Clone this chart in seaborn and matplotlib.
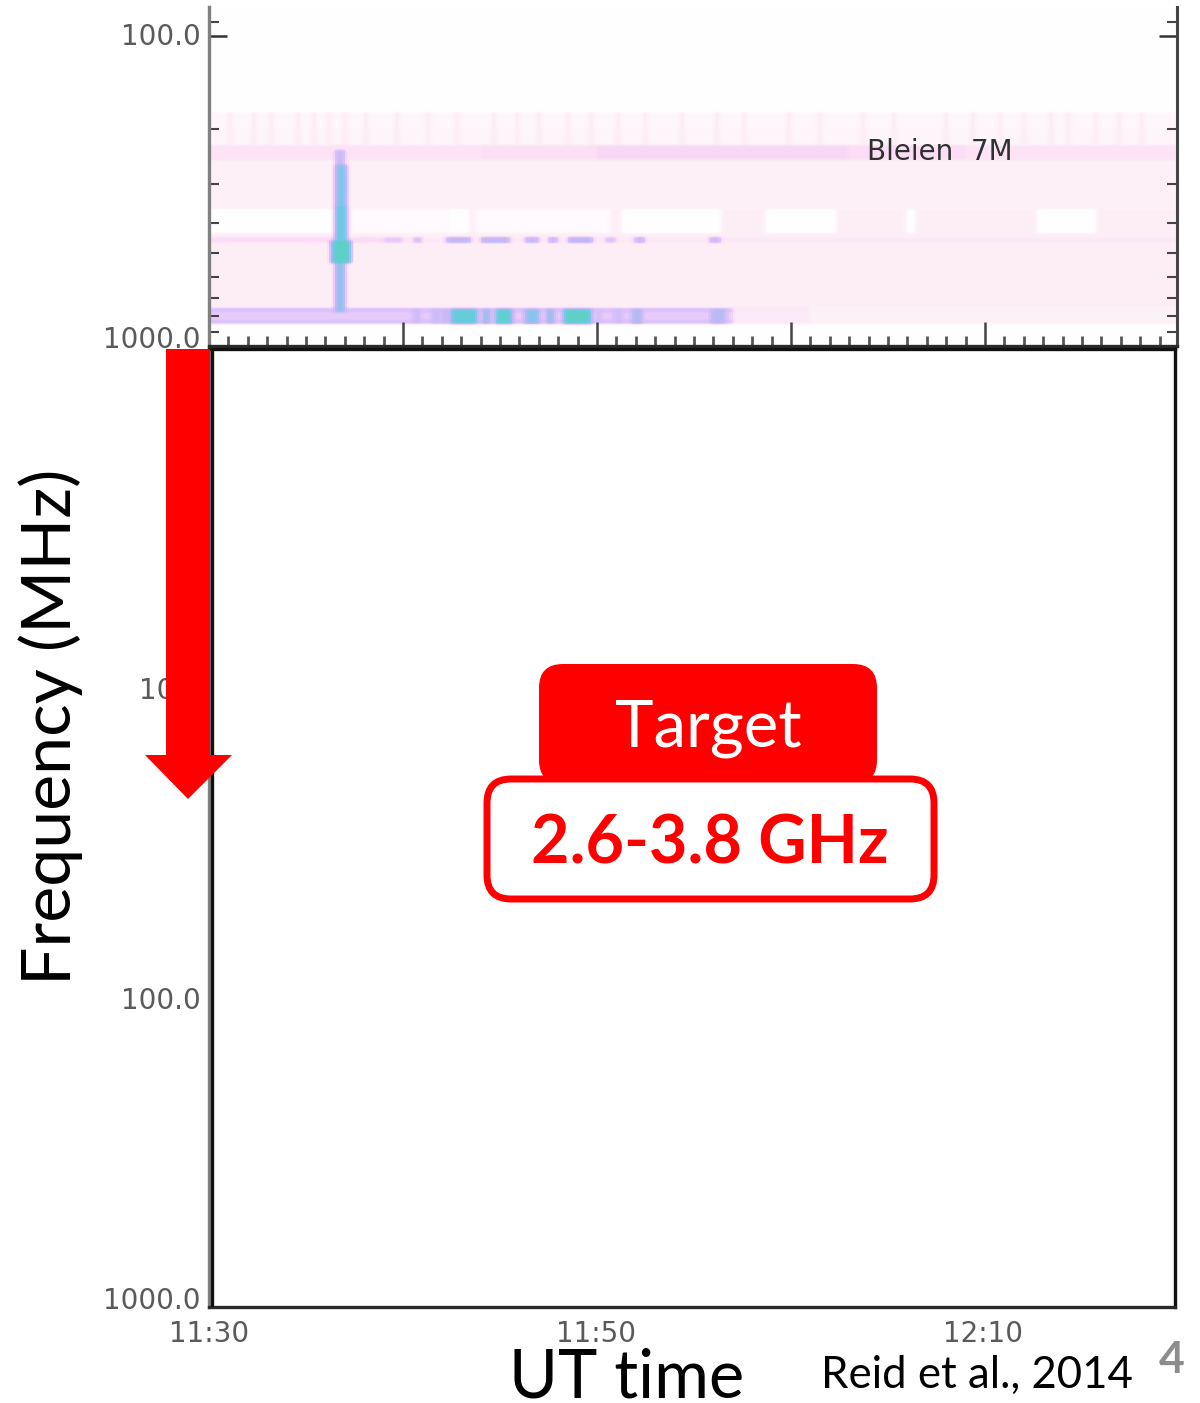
import matplotlib
matplotlib.use("Agg")
import matplotlib.pyplot as plt
import numpy as np
import pandas as pd
import seaborn as sns
from matplotlib.colors import LinearSegmentedColormap
from matplotlib.patches import FancyBboxPatch, Polygon
from matplotlib.ticker import FixedLocator, NullFormatter

# spectrogram bands: low freq, high freq (MHz), level
band_low = [80.6, 176, 200, 225, 252, 360, 431, 743, 755, 780, 824, 850]
band_high = [176, 200, 225, 252, 360, 431, 743, 755, 780, 824, 850, 1000]
band_level = [0.0, 0.05, 0.06, 0.16, 0.09, 0.10, 0.10, 0.12, 0.34, 0.27, 0.34, 0.0]

# white gaps in the 360-431 MHz band (minutes after 11:30)
gap_start = [0.0, 7.3, 12.4, 13.7, 21.3, 28.7, 36.0, 42.7]
gap_end = [6.4, 12.4, 13.4, 20.7, 26.4, 32.3, 36.4, 45.7]
gap_level = [0.0, 0.03, 0.0, 0.03, 0.0, 0.0, 0.0, 0.0]

# stronger pink in the 225-252 MHz band
pink_start = [14.0, 20.0, 33.0]
pink_end = [20.0, 33.0, 39.0]
pink_level = [0.18, 0.22, 0.19]

# faint vertical striations, 176-225 MHz
stria_time = [1.0, 2.2, 3.1, 4.5, 5.3, 6.1, 6.9, 8.0, 9.6, 11.2, 12.7, 14.6, 15.8, 16.9, 18.4, 19.6,
              21.0, 22.4, 24.3, 26.1, 27.5, 29.8, 31.4, 33.6, 35.2, 37.9, 39.3, 40.7, 41.9, 43.3, 44.2, 45.6, 46.8, 48.0]

# fading of the purple strip on the right (minutes, level)
strip_fade_start = [27.0, 31.0]
strip_fade_end = [31.0, 49.9]
strip_fade_level = [0.13, 0.08]

# main burst
burst_time = 6.75
burst_low = [234, 261, 352, 457, 539]
burst_high = [261, 352, 457, 539, 776]
burst_width = [0.5, 0.55, 0.6, 0.95, 0.5]
burst_level = [0.42, 0.68, 0.78, 0.88, 0.64]

# later bursts in the 760-850 MHz strip
strip_start = [10.5, 11.5, 12.0, 12.5, 14.1, 14.8, 16.3, 17.4, 18.3, 20.0, 20.8, 21.0, 21.8, 25.9]
strip_end = [10.9, 11.9, 12.4, 13.8, 14.5, 15.6, 17.0, 17.8, 19.7, 20.2, 21.0, 21.3, 22.3, 26.6]
strip_level = [0.4, 0.42, 0.44, 0.82, 0.62, 0.86, 0.66, 0.62, 0.88, 0.38, 0.34, 0.4, 0.54, 0.5]

# thin emission line at 454 MHz
line_start = [0.0, 9.0, 10.5, 12.2, 14.0, 16.3, 17.5, 18.5, 20.4, 21.9, 25.8]
line_end = [9.0, 10.0, 11.0, 13.5, 15.5, 17.0, 18.0, 19.8, 21.0, 22.5, 26.4]
line_level = [0.2, 0.28, 0.34, 0.46, 0.46, 0.44, 0.42, 0.48, 0.32, 0.42, 0.4]

freq_major = [100, 1000]
freq_minor = [90, 200, 300, 400, 500, 600, 700, 800, 900]
freq_minor_low = [2, 3, 4, 5, 6, 7, 8, 9, 20, 30, 40, 50, 60, 70, 80, 90, 200, 300, 400, 500, 600, 700, 800, 900]
time_major = [0, 10, 20, 30, 40]
time_lower_labels = ["11:30", "11:50", "12:10"]
time_lower_ticks = [0, 20, 40]
lower_freq_labels = ["10.0", "100.0", "1000.0"]
lower_freq_ticks = [10, 100, 1000]
lower_label_offset = [-2, -2, 4]

T_MAX = 49.9
W, H = 1200, 1403

sns.set_theme(style="white")
plt.rcParams["font.family"] = ["DejaVu Sans"]

time_grid = np.arange(0, T_MAX, 0.1)
freq_grid = np.logspace(np.log10(80.6), 3, 338)
grid = np.zeros((len(freq_grid), len(time_grid)))


def fill(f_low, f_high, t_start, t_end, value):
    rows = (freq_grid >= f_low) & (freq_grid < f_high)
    cols = (time_grid >= t_start) & (time_grid < t_end)
    grid[np.ix_(rows, cols)] = value


for low, high, level in zip(band_low, band_high, band_level):
    fill(low, high, 0, T_MAX, level)
for start, end, level in zip(pink_start, pink_end, pink_level):
    fill(225, 252, start, end, level)
for start, end, level in zip(gap_start, gap_end, gap_level):
    fill(360, 431, start, end, level)
for t in stria_time:
    fill(176, 225, t, t + 0.15, 0.13)
for start, end, level in zip(strip_fade_start, strip_fade_end, strip_fade_level):
    fill(743, 850, start, end, level)
fill(444, 464, 0, T_MAX, 0.13)
for start, end, level in zip(line_start, line_end, line_level):
    fill(444, 464, start, end, level)
for low, high, width, level in zip(burst_low, burst_high, burst_width, burst_level):
    fill(low, high, burst_time - width / 2, burst_time + width / 2, level)
for start, end, level in zip(strip_start, strip_end, strip_level):
    fill(762, 850, start, end, level)

# the source is a blurry scan
kernel = np.array([0.1, 0.2, 0.4, 0.2, 0.1])
grid = np.apply_along_axis(lambda r: np.convolve(r, kernel, mode="same"), 1, grid)
grid = np.apply_along_axis(lambda c: np.convolve(c, kernel, mode="same"), 0, grid)
grid[:, :2] = grid[:, [2]]
grid[:, -2:] = grid[:, [-3]]
grid[:2] = grid[2]
grid[-2:] = grid[-3]

cmap = LinearSegmentedColormap.from_list("bleien", [
    (0.0, "#fffeff"), (0.1, "#fdeef6"), (0.2, "#fbdcf5"), (0.3, "#dfc4fa"),
    (0.45, "#c4b8f5"), (0.6, "#9cc0ee"), (0.75, "#6fc8ea"), (0.88, "#5fd0c8"), (1.0, "#66dd9f"),
])

fig = plt.figure(figsize=(W / 100, H / 100), dpi=100, facecolor="white")


def px_axes(left, top, right, bottom, **kwargs):
    return fig.add_axes([left / W, 1 - bottom / H, (right - left) / W, (bottom - top) / H], **kwargs)


ax_img = px_axes(209, 7, 1177, 346)
sns.heatmap(pd.DataFrame(grid, index=freq_grid, columns=time_grid), ax=ax_img, cbar=False, cmap=cmap,
            vmin=0, vmax=1, xticklabels=False, yticklabels=False)
ax_img.set_xlabel("")
ax_img.set_ylabel("")

LABEL = dict(color="#5a5a5a", fontsize=20)


def style_axis(ax, minor_ticks):
    ax.set_yscale("log")
    ax.set_xlim(0, T_MAX)
    ax.yaxis.set_major_formatter(NullFormatter())
    ax.yaxis.set_minor_formatter(NullFormatter())
    ax.yaxis.set_minor_locator(FixedLocator(minor_ticks))
    ax.spines["left"].set(color="#808080", linewidth=2.4)
    ax.spines["right"].set(color="#454545", linewidth=2.2)
    ax.spines["bottom"].set(color="#2a2a2a", linewidth=2.4)
    ax.patch.set_alpha(0)


# top panel, frequency axis inverted
ax_top = px_axes(209, 7, 1177, 346)
style_axis(ax_top, freq_minor)
ax_top.set_ylim(1000, 80.6)
ax_top.spines["top"].set_visible(False)
ax_top.yaxis.set_major_locator(FixedLocator(freq_major))
ax_top.tick_params(axis="y", which="major", left=True, right=True, direction="in", length=13, width=1.8, color="#333")
ax_top.tick_params(axis="y", which="minor", left=True, right=True, direction="in", length=7, width=1.5, color="#444")
ax_top.xaxis.set_major_locator(FixedLocator(time_major))
ax_top.xaxis.set_minor_locator(FixedLocator(np.arange(0, T_MAX, 1.0)))
ax_top.xaxis.set_major_formatter(NullFormatter())
ax_top.tick_params(axis="x", which="major", bottom=True, direction="in", length=17, width=1.8, color="#444")
ax_top.tick_params(axis="x", which="minor", bottom=True, direction="in", length=7, width=2.0, color="#555")
ax_top.annotate("100.0", xy=(0, 100), xycoords=("axes fraction", "data"), xytext=(-6, -1),
                textcoords="offset points", ha="right", va="center", **LABEL)
ax_top.annotate("1000.0", xy=(0, 1000), xycoords=("axes fraction", "data"), xytext=(-6, 4),
                textcoords="offset points", ha="right", va="center", **LABEL)
ax_top.annotate("Bleien  7M", xy=(33.9, 236), xycoords="data", ha="left", va="center",
                color="#303030", fontsize=20)

# lower panel, blanked out by the white frame
ax_low = px_axes(209, 348.5, 1175, 1307)
style_axis(ax_low, freq_minor_low)
ax_low.set_ylim(1000, 0.794)
ax_low.spines["top"].set(color="#111", linewidth=2.4)
ax_low.spines["right"].set(color="#111", linewidth=2.4)
ax_low.yaxis.set_major_locator(FixedLocator(lower_freq_ticks))
ax_low.tick_params(axis="y", which="both", left=True, direction="in", length=2, width=1.4, color="#333")
ax_low.set_xticks(time_lower_ticks)
ax_low.set_xticklabels(time_lower_labels, **LABEL)
ax_low.tick_params(axis="x", bottom=False, pad=3)
for freq, text, offset in zip(lower_freq_ticks, lower_freq_labels, lower_label_offset):
    ax_low.annotate(text, xy=(0, freq), xycoords=("axes fraction", "data"), xytext=(-6, offset),
                    textcoords="offset points", ha="right", va="center", **LABEL)
ax_low.axvline(0.14, color="#111", linewidth=2.4, zorder=5)

# slide overlay in pixel coordinates
over = px_axes(0, 0, W, H)
over.set_xlim(0, W)
over.set_ylim(H, 0)
over.axis("off")
over.add_patch(Polygon([(166, 349), (210, 349), (210, 755), (232, 755), (188, 799), (145, 755), (166, 755)],
                       closed=True, facecolor="#ff0000", edgecolor="none"))
over.add_patch(FancyBboxPatch((539, 664), 338, 120, boxstyle="round,pad=0,rounding_size=24",
                              facecolor="#ff0000", edgecolor="none"))
over.add_patch(FancyBboxPatch((487, 779), 447, 120, boxstyle="round,pad=0,rounding_size=24",
                              facecolor="white", edgecolor="#ff0000", linewidth=5))

LATO = ["Lato", "DejaVu Sans"]
over.text(708, 728, "Target", color="white", fontsize=47, family=LATO, ha="center", va="center")
over.text(710, 845, "2.6-3.8 GHz", color="#ff0000", fontsize=48, family=LATO, fontweight="bold", ha="center", va="center")
over.text(51, 727, "Frequency (MHz)", color="black", fontsize=49, family=LATO, rotation=90, ha="center", va="center")
over.text(627, 1379, "UT time", color="black", fontsize=48, family=LATO, ha="center", va="center")
over.text(977, 1375, "Reid et al., 2014", color="black", fontsize=31.5, family=LATO, ha="center", va="center")
over.text(1172, 1360, "4", color="#8c8c8c", fontsize=32, family=LATO, fontweight="bold", ha="center", va="center")

fig.savefig("out.png", dpi=100)
